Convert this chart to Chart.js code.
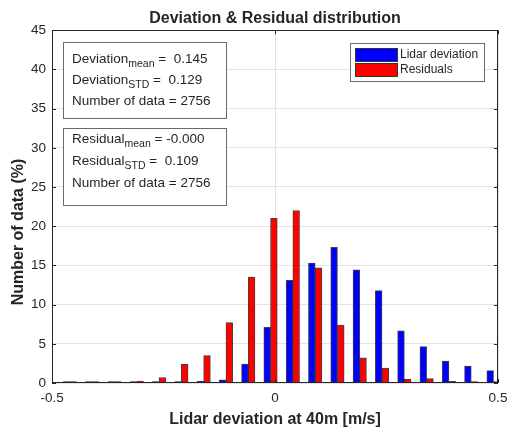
<!DOCTYPE html>
<html>
<head>
<meta charset="utf-8">
<script src="https://cdn.jsdelivr.net/npm/chart.js@4.4.1/dist/chart.umd.min.js"></script>
<style>
  body { margin: 0; background: #fff; }
  #wrap { width: 508px; height: 429px; }
</style>
</head>
<body>
<div id="wrap"><canvas id="chart" width="508" height="429"></canvas></div>

<script>
// histogram bin centres (m/s) and share of samples in each bin (%)
const binCenters = [-0.46, -0.41, -0.36, -0.31, -0.26, -0.21, -0.16, -0.11, -0.06, -0.01,
                    0.04, 0.09, 0.14, 0.19, 0.24, 0.29, 0.34, 0.39, 0.44, 0.49]
const deviationPct = [0.02, 0.05, 0.03, 0.02, 0.05, 0.1, 0.2, 0.4, 2.4, 7.1,
                      13.1, 15.3, 17.3, 14.45, 11.8, 6.65, 4.65, 2.8, 2.15, 1.57]
const residualPct = [0.15, 0.05, 0.1, 0.25, 0.7, 2.4, 3.5, 7.7, 13.5, 21.0,
                     22.0, 14.7, 7.4, 3.2, 1.9, 0.5, 0.55, 0.2, 0.05, 0.1]
const seriesNames = ['Lidar deviation', 'Residuals']

// text boxes: [main, subscript, rest]
const devStats = [['Deviation', 'mean', ' =  0.145'], ['Deviation', 'STD', ' =  0.129'], ['Number of data = 2756', '', '']]
const resStats = [['Residual', 'mean', ' = -0.000'], ['Residual', 'STD', ' =  0.109'], ['Number of data = 2756', '', '']]

const FONT = '"Liberation Sans", Arial, Helvetica, sans-serif'
const INK = '#262626'

function toPoints(vals) {
  return binCenters.map((x, i) => ({ x, y: vals[i] }))
}

function drawStatBox(ctx, rows, bx, by, bw, bh, baselines) {
  ctx.fillStyle = '#fff'
  ctx.fillRect(bx, by, bw, bh)
  ctx.strokeStyle = '#6a6a6a'
  ctx.lineWidth = 1
  ctx.strokeRect(bx + 0.5, by + 0.5, bw, bh)
  ctx.fillStyle = INK
  ctx.textBaseline = 'alphabetic'
  ctx.textAlign = 'left'
  rows.forEach((r, i) => {
    let x = bx + 9
    let base = baselines[i]
    ctx.font = '13.5px ' + FONT
    ctx.fillText(r[0], x, base)
    x += ctx.measureText(r[0]).width
    if (r[1]) {
      ctx.font = '10.5px ' + FONT
      ctx.fillText(r[1], x, base + 4)
      x += ctx.measureText(r[1]).width
    }
    if (r[2]) {
      ctx.font = '13.5px ' + FONT
      ctx.fillText(r[2], x, base)
    }
  })
}

const decorations = {
  id: 'decorations',
  afterDatasetsDraw(chart) {
    const { ctx, chartArea: a, scales } = chart
    ctx.save()
    ctx.strokeStyle = INK
    ctx.lineWidth = 1
    ctx.strokeRect(Math.round(a.left) + 0.5, Math.round(a.top) + 0.5,
                   Math.round(a.width) - 1, Math.round(a.height) - 1)
    ctx.beginPath()
    scales.y.ticks.forEach(t => {
      let py = Math.round(scales.y.getPixelForValue(t.value)) + 0.5
      ctx.moveTo(a.left, py); ctx.lineTo(a.left + 4, py)
      ctx.moveTo(a.right, py); ctx.lineTo(a.right - 4, py)
    })
    scales.x.ticks.forEach(t => {
      let px = Math.round(scales.x.getPixelForValue(t.value)) + 0.5
      ctx.moveTo(px, a.bottom); ctx.lineTo(px, a.bottom - 4)
      ctx.moveTo(px, a.top); ctx.lineTo(px, a.top + 4)
    })
    ctx.stroke()

    // x tick labels, placed from the x scale
    ctx.fillStyle = INK
    ctx.font = '13.5px ' + FONT
    ctx.textAlign = 'center'
    ctx.textBaseline = 'middle'
    scales.x.ticks.forEach(t => {
      ctx.fillText(String(t.value), scales.x.getPixelForValue(t.value), a.bottom + 15)
    })
    ctx.restore()
  },
  afterDraw(chart) {
    const ctx = chart.ctx
    ctx.save()

    drawStatBox(ctx, devStats, 63, 42, 163, 76, [63, 84, 105])
    drawStatBox(ctx, resStats, 63, 128, 163, 77, [143, 165, 187])

    // legend
    ctx.fillStyle = '#fff'
    ctx.fillRect(350, 43, 134, 38)
    ctx.strokeStyle = '#6a6a6a'
    ctx.strokeRect(350.5, 43.5, 134, 38)
    ctx.font = '12px ' + FONT
    ctx.textBaseline = 'middle'
    chart.data.datasets.forEach((ds, i) => {
      let y = 48 + i * 15
      ctx.fillStyle = ds.backgroundColor
      ctx.fillRect(355, y, 42, 13)
      ctx.strokeStyle = '#333'
      ctx.strokeRect(355.5, y + 0.5, 42, 13)
      ctx.fillStyle = INK
      ctx.fillText(ds.label, 400, y + 7)
    })

    // y axis title
    ctx.translate(19, 232)
    ctx.rotate(-Math.PI / 2)
    ctx.font = 'bold 16px ' + FONT
    ctx.textAlign = 'center'
    ctx.textBaseline = 'middle'
    ctx.fillStyle = INK
    ctx.fillText('Number of data (%)', 0, 0)
    ctx.restore()
  }
}

new Chart(document.getElementById('chart'), {
  type: 'bar',
  data: {
    datasets: [
      { label: seriesNames[0], data: toPoints(deviationPct), backgroundColor: '#0000ff' },
      { label: seriesNames[1], data: toPoints(residualPct), backgroundColor: '#ff0000' },
    ],
  },
  options: {
    responsive: false,
    animation: false,
    layout: { padding: { left: 25, right: 10, top: 0, bottom: 0 } },
    datasets: {
      bar: {
        barThickness: 6.7,
        minBarLength: 1.5,
        borderColor: 'rgba(0,0,0,0.75)',
        borderWidth: 1,
      },
    },
    plugins: {
      legend: { display: false },
      tooltip: { enabled: false },
      title: {
        display: true,
        fullSize: false,
        text: 'Deviation & Residual distribution',
        color: INK,
        font: { family: FONT, size: 16, weight: 'bold' },
        padding: { top: 9, bottom: 2 },
      },
    },
    scales: {
      x: {
        type: 'linear',
        min: -0.5,
        max: 0.5,
        offset: false,
        grid: { offset: false, color: '#e3e3e3', drawTicks: false },
        border: { display: false },
        ticks: { display: false, stepSize: 0.5 },
        title: {
          display: true,
          text: 'Lidar deviation at 40m [m/s]',
          color: INK,
          font: { family: FONT, size: 16, weight: 'bold' },
          padding: { top: 26.8, bottom: 0 },
        },
      },
      y: {
        min: 0,
        max: 45,
        grid: { color: '#e3e3e3', drawTicks: false },
        border: { display: false },
        ticks: { stepSize: 5, color: INK, padding: 6, font: { family: FONT, size: 13.5 } },
      },
    },
  },
  plugins: [decorations],
})
</script>
</body>
</html>
